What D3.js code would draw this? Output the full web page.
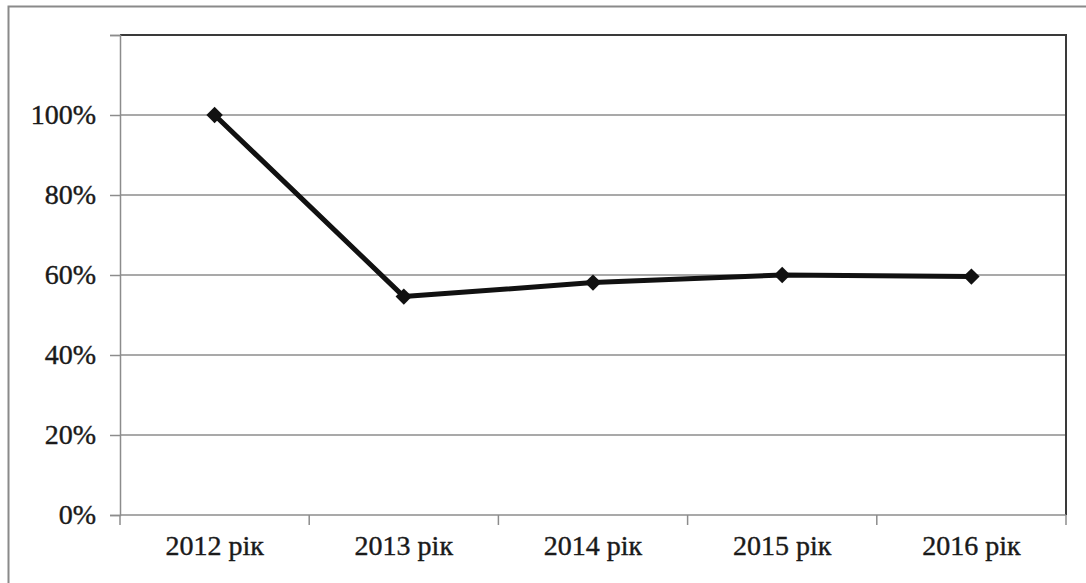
<!DOCTYPE html>
<html><head><meta charset="utf-8">
<script src="https://cdn.jsdelivr.net/npm/d3@7"></script>
<style>body{margin:0;background:#fff}svg{display:block}
text{font-family:"Liberation Serif","Times New Roman",Times,serif;}</style>
</head><body>
<svg id="c" width="1086" height="583"></svg>
<script>
const categories = ["2012 рік","2013 рік","2014 рік","2015 рік","2016 рік"];
const values = [1.00, 0.546, 0.581, 0.600, 0.596];
const yTicks = [0, 0.2, 0.4, 0.6, 0.8, 1.0, 1.2];
const yTickLabels = ["0%","20%","40%","60%","80%","100%",""];

const svg = d3.select("#c");
const L = 120, R = 1066, T = 35, B = 515;
const FONT = "'Liberation Serif', 'Times New Roman', Times, serif";
// outer frame
svg.append("path").attr("d","M8.5,583 L8.5,6.5 L1086,6.5").attr("fill","none").attr("stroke","#8a8a8a").attr("stroke-width",2);

const x = d3.scaleBand().domain(categories).range([L, R]).padding(0);
const y = d3.scaleLinear().domain([0, 1.2]).range([B, T]);

// gridlines
svg.append("g").selectAll("line").data(yTicks.filter(v => v > 0 && v < 1.2)).join("line")
  .attr("x1", L).attr("x2", R).attr("y1", d => y(d)).attr("y2", d => y(d))
  .attr("stroke", "#8c8c8c").attr("stroke-width", 1.5);

// plot border top/right
svg.append("path").attr("d", `M${L},${T} L${R},${T} L${R},${B}`).attr("fill","none").attr("stroke","#3a3a3a").attr("stroke-width",2);

// y axis
const yAxis = d3.axisLeft(y).tickValues(yTicks).tickSize(10).tickPadding(14)
  .tickFormat((d, i) => yTickLabels[i]);
const gy = svg.append("g").attr("transform", `translate(${L},0)`).call(yAxis);
gy.attr("font-family", null);
gy.select(".domain").attr("stroke", "#8c8c8c").attr("stroke-width", 1.5);
gy.selectAll(".tick line").attr("stroke", "#8c8c8c").attr("stroke-width", 1.5);
gy.selectAll("text").style("font-family", FONT).attr("font-size", 28).attr("fill", "#1a1a1a")
  .attr("stroke", "#1a1a1a").attr("stroke-width", 0.4);

// x axis
const xAxis = d3.axisBottom(x).tickSize(0).tickPadding(20);
const gx = svg.append("g").attr("transform", `translate(0,${B})`).call(xAxis);
gx.attr("font-family", null);
gx.select(".domain").remove();
gx.selectAll("text").style("font-family", FONT).attr("font-size", 28).attr("fill", "#1a1a1a")
  .attr("stroke", "#1a1a1a").attr("stroke-width", 0.4);
svg.append("line").attr("x1", L).attr("x2", R).attr("y1", B).attr("y2", B).attr("stroke", "#8c8c8c").attr("stroke-width", 1.5);
// category boundary ticks
const bounds = categories.map(c => x(c)).concat([R]);
svg.append("g").selectAll("line").data(bounds).join("line")
  .attr("x1", d => d).attr("x2", d => d).attr("y1", B).attr("y2", B + 10)
  .attr("stroke", "#8c8c8c").attr("stroke-width", 1.5);

// line
const cx = c => x(c) + x.bandwidth() / 2;
const line = d3.line().x((d, i) => cx(categories[i])).y(d => y(d));
svg.append("path").datum(values).attr("d", line).attr("fill", "none")
  .attr("stroke", "#111").attr("stroke-width", 5).attr("stroke-linejoin", "round");

// markers (diamonds)
svg.append("g").selectAll("path").data(values).join("path")
  .attr("d", d3.symbol().type(d3.symbolSquare).size(135))
  .attr("transform", (d, i) => `translate(${cx(categories[i])},${y(d)}) rotate(45)`)
  .attr("fill", "#111");
</script>
</body></html>
